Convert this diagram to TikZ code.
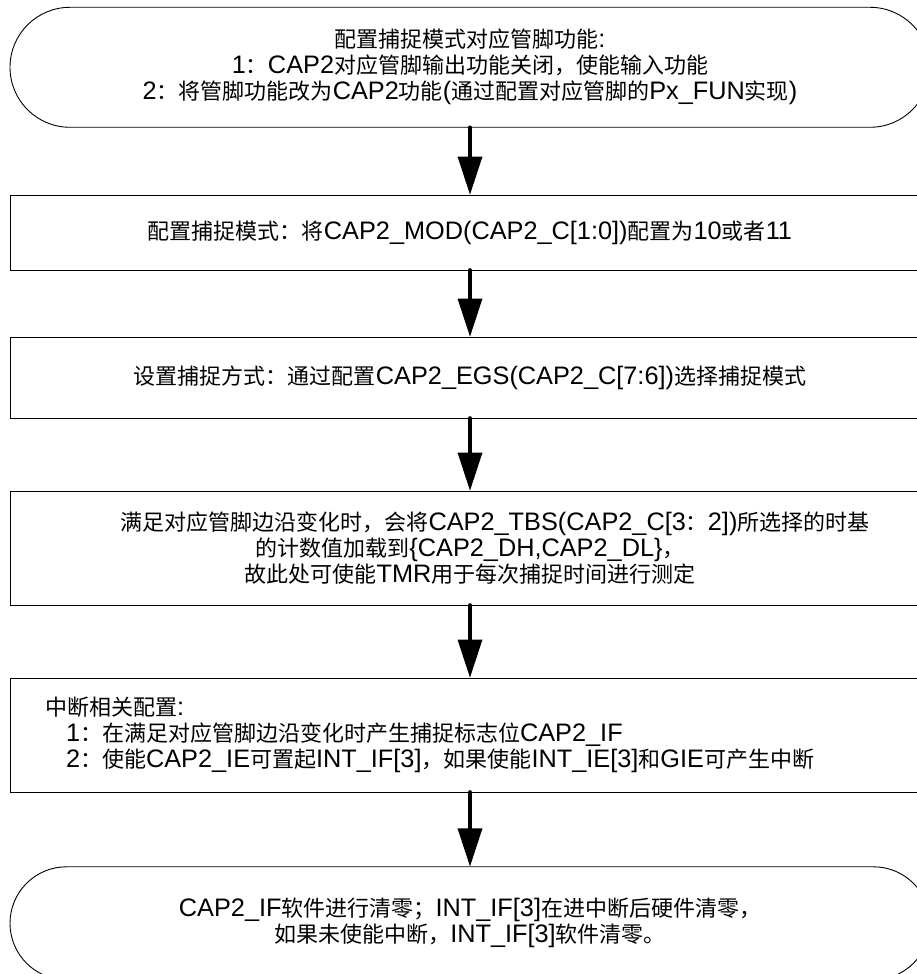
\documentclass[tikz,border=0pt]{standalone}
\usepackage{fontspec}
\setmainfont{Liberation Sans}[Scale=1.15]
\newfontfamily\latf{Liberation Sans}[Scale=1.15]
\newfontfamily\cjkf{Noto Sans CJK SC}
\usetikzlibrary{arrows.meta}
\XeTeXinterchartokenstate=1
\chardef\CJKcls=7
\newcount\ccnt
\def\setcjkrange#1#2{\ccnt=#1\relax\loop\XeTeXcharclass\ccnt=\CJKcls\relax\advance\ccnt by 1\relax\ifnum\ccnt<#2\repeat}
\setcjkrange{"3000}{"3040}
\setcjkrange{"4E00}{"A000}
\setcjkrange{"FF00}{"FFF0}
\XeTeXinterchartoks 0 \CJKcls = {\cjkf}
\XeTeXinterchartoks 4095 \CJKcls = {\cjkf}
\XeTeXinterchartoks \CJKcls 0 = {\latf}
\XeTeXinterchartoks \CJKcls 4095 = {\latf}
\tikzset{
  box/.style={draw=black, line width=0.9pt, minimum width=920pt, inner sep=0pt,
    align=center, font=\fontsize{22}{26}\selectfont},
  term/.style={box, rounded corners=#1},
  arr/.style={line width=4.6pt, line cap=round,
    -{Triangle[length=38pt,width=25pt,line width=0pt]}}
}
\begin{document}
\begin{tikzpicture}[x=1pt,y=1pt]
\clip (0,0) rectangle (917,974);
\node[term=60pt, minimum height=120pt] (t1) at (470,906.7)
  {配置捕捉模式对应管脚功能:\\1：CAP2对应管脚输出功能关闭，使能输入功能\\2：将管脚功能改为CAP2功能(通过配置对应管脚的Px\_FUN实现)};
\node[box, minimum height=75pt] (b2) at (470,741.5)
  {配置捕捉模式：将CAP2\_MOD(CAP2\_C[1:0])配置为10或者11};
\node[box, minimum height=81pt] (b3) at (470,596.5)
  {设置捕捉方式：通过配置CAP2\_EGS(CAP2\_C[7:6])选择捕捉模式};
\node[box, minimum height=114pt] (b4) at (470,426)
  {\hspace*{50pt}满足对应管脚边沿变化时，会将CAP2\_TBS(CAP2\_C[3：2])所选择的时基\\的计数值加载到\{CAP2\_DH,CAP2\_DL\}，\\故此处可使能TMR用于每次捕捉时间进行测定};
\node[box, minimum height=114pt, align=left, text width=850pt, inner xsep=35pt] (b5) at (470,239)
  {中断相关配置:\\\hspace*{21pt}1：在满足对应管脚边沿变化时产生捕捉标志位CAP2\_IF\\\hspace*{21pt}2：使能CAP2\_IE可置起INT\_IF[3]，如果使能INT\_IE[3]和GIE可产生中断};
\node[term=56.5pt, minimum height=113pt] (t2) at (470,50.7)
  {CAP2\_IF软件进行清零；INT\_IF[3]在进中断后硬件清零，\\如果未使能中断，INT\_IF[3]软件清零。};
\draw[arr] (t1.south) -- (b2.north);
\draw[arr] (b2.south) -- (b3.north);
\draw[arr] (b3.south) -- (b4.north);
\draw[arr] (b4.south) -- (b5.north);
\draw[arr] (b5.south) -- (t2.north);
\end{tikzpicture}
\end{document}
